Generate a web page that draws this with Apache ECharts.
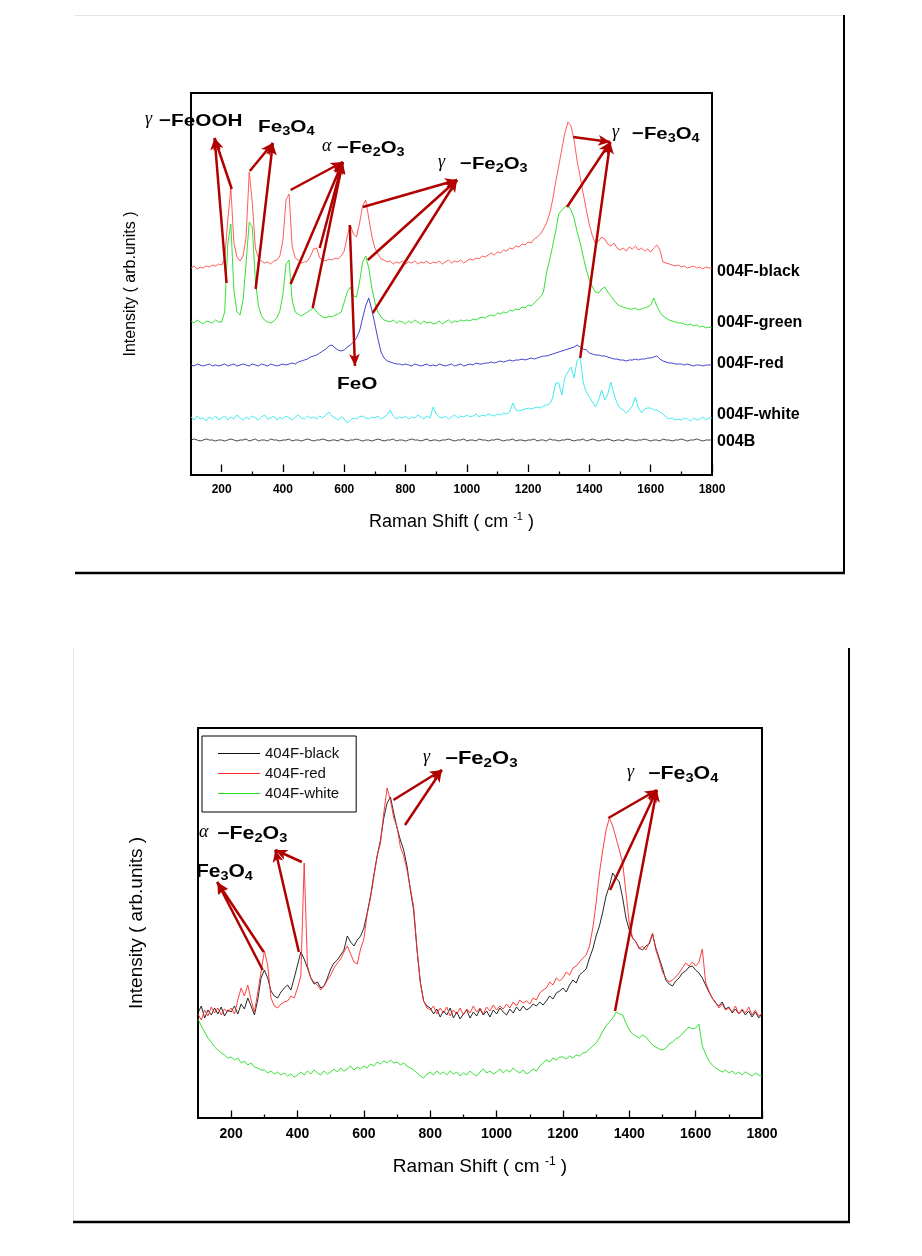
<!DOCTYPE html>
<html><head><meta charset="utf-8">
<script src="https://cdn.jsdelivr.net/npm/echarts@6/dist/echarts.min.js"></script>
<style>html,body{margin:0;padding:0;background:#fff}#c{width:922px;height:1256px}</style>
</head><body><div id="c"></div>
<script>
// Raman shift sampling grid (cm-1)
const shiftStart = 100, shiftStep = 10;
const majorTicks = [200,400,600,800,1000,1200,1400,1600,1800];
const minorTicks = [300,500,700,900,1100,1300,1500,1700];

// ---- top chart (004 samples), arbitrary intensity units ----
const top004Fblack = [
204,206,203,205,204,206,205,207,206,208,
207,213,252,284,229,215,211,216,236,300,
270,224,214,211,209,210,208,211,212,216,
232,272,278,226,214,212,209,210,211,216,
223,224,214,212,211,213,212,214,213,216,
221,236,247,238,235,249,266,272,254,236,
224,218,213,212,210,211,208,210,209,211,
208,210,209,211,208,210,209,211,208,210,
209,211,208,210,212,209,211,210,212,209,
211,213,212,214,213,216,215,217,219,217,
220,219,222,221,224,223,226,225,228,227,
230,229,233,235,238,243,249,258,272,290,
306,323,339,350,346,332,311,295,278,262,
247,236,228,231,235,233,228,226,229,224,
222,224,221,225,223,226,222,224,221,223,
220,224,227,222,210,209,208,207,206,207,
205,206,204,205,206,204,205,203,205,204,
204];
const top004Fgreen = [
151,149,152,150,148,151,150,149,152,150,
150,160,228,248,182,160,157,172,210,250,
245,192,166,156,152,150,149,151,154,161,
178,208,212,172,160,158,156,158,160,162,
164,160,157,155,154,156,155,157,158,160,
170,180,185,176,175,190,210,216,204,184,
170,160,155,152,151,150,152,149,151,150,
148,151,149,152,150,148,151,149,150,148,
149,151,148,150,152,149,151,150,152,151,
152,151,153,152,154,155,154,156,157,156,
159,158,160,159,162,161,163,162,165,164,
167,166,169,172,175,180,199,212,226,241,
258,262,265,267,262,254,240,229,215,202,
192,185,180,179,183,185,180,176,172,168,
166,165,164,163,163,164,162,163,164,165,
167,174,166,160,156,154,152,151,150,149,
149,148,147,148,146,147,145,146,144,145,
144];
const top004Fred = [
107,106,108,107,106,107,108,106,107,106,
107,108,106,107,108,106,107,108,107,106,
108,107,106,108,107,106,108,107,106,107,
108,107,108,109,108,110,111,112,113,115,
116,117,119,121,123,126,127,124,122,121,
122,125,127,130,134,141,154,166,174,162,
148,133,120,114,111,110,109,108,108,107,
108,107,106,108,107,106,107,108,106,107,
106,108,107,106,107,108,106,107,108,106,
107,108,107,109,108,108,109,109,110,109,
110,111,110,111,112,111,112,112,113,112,
113,114,113,114,115,116,116,117,118,119,
120,121,122,123,124,125,127,125,123,122,
119,118,117,117,116,116,115,114,113,113,
112,112,111,112,112,113,112,113,113,114,
114,115,116,113,111,110,109,109,108,108,
108,107,108,107,106,107,107,106,107,107,
107];
const top004Fwhite = [
55,52,56,53,54,51,55,53,56,52,
54,56,52,55,53,57,54,52,55,53,
56,54,52,55,57,53,54,56,52,55,
53,56,54,52,55,57,54,53,56,54,
55,53,56,54,57,60,56,54,52,55,
53,49,52,54,53,55,56,54,53,55,
54,56,53,55,57,62,56,53,55,54,
56,53,55,54,57,55,53,56,54,65,
58,55,54,56,53,55,57,54,56,55,
57,55,56,58,55,57,56,58,57,56,
58,57,59,58,60,69,62,61,62,63,
64,63,64,65,64,66,67,68,74,89,
89,77,95,100,105,94,112,115,89,80,
75,70,65,72,82,72,78,90,78,69,
64,62,59,62,66,75,64,59,63,64,
64,62,62,60,58,55,53,54,52,53,
52,54,53,51,54,52,53,55,52,54,
54];
const top004B = [
32,33,32,31,32,33,32,32,31,32,
32,31,32,33,32,31,32,32,33,31,
32,33,31,32,32,31,33,32,32,31,
32,32,33,31,32,32,31,32,33,32,
31,32,32,33,32,31,32,32,31,33,
32,31,32,32,33,32,31,32,32,31,
32,33,32,31,32,32,33,31,32,32,
31,32,33,32,32,31,32,33,31,32,
32,31,32,32,33,32,31,32,32,33,
31,32,32,31,33,32,32,31,32,32,
33,32,31,32,32,33,31,32,32,31,
32,32,33,31,32,32,31,33,32,32,
31,32,32,33,32,31,32,32,33,31,
32,33,32,31,32,32,33,32,31,32,
32,31,33,32,32,31,32,32,33,32,
31,32,32,31,33,32,32,31,32,32,
33,32,31,32,32,33,32,31,32,32,
32];

// ---- bottom chart (404 samples) ----
const bot404Fblack = [
105,112,100,108,103,110,104,111,102,108,
106,112,104,114,109,120,112,103,118,140,
148,140,127,122,120,126,130,133,128,140,
153,166,159,150,140,134,136,130,132,140,
149,155,158,163,168,182,176,172,178,182,
190,205,222,243,262,278,300,315,321,305,
290,278,268,252,228,208,169,136,117,112,
110,104,109,101,107,103,110,100,106,99,
104,108,100,106,102,109,103,107,101,108,
104,110,106,103,109,105,111,107,112,108,
110,114,112,116,113,117,122,119,125,127,
130,126,133,138,135,143,146,149,160,169,
182,192,206,222,232,245,240,236,220,200,
188,180,176,170,168,172,174,184,170,160,
150,138,134,132,137,140,145,147,151,152,
148,145,140,133,126,120,115,112,116,109,
111,105,109,104,108,103,107,101,106,100,
104];
const bot404Fred = [
104,98,108,102,111,105,110,103,109,106,
110,104,118,130,122,133,118,106,125,146,
167,153,120,112,110,114,116,117,122,120,
130,142,255,152,140,136,133,128,132,138,
143,150,155,159,166,172,164,156,154,169,
179,204,220,241,262,275,305,330,318,300,
291,271,262,248,230,211,169,136,117,110,
108,112,104,110,105,111,102,108,104,110,
103,109,105,112,106,110,104,111,107,113,
108,112,109,114,110,116,112,118,115,117,
114,120,118,125,128,130,136,133,140,137,
140,146,143,150,152,156,160,163,172,190,
215,245,268,288,300,292,280,268,255,225,
195,180,176,169,172,168,175,185,168,158,
146,140,136,138,141,145,150,155,152,156,
152,156,169,136,127,120,116,110,114,108,
110,106,112,104,109,105,111,103,108,102,
105];
const bot404Fwhite = [
99,92,86,80,76,71,68,65,63,60,
61,58,60,55,57,53,55,51,50,48,
48,45,47,44,46,43,45,42,44,41,
43,46,43,47,44,48,45,43,47,44,
46,49,46,50,47,49,52,48,51,49,
52,50,54,52,56,54,57,55,58,55,
56,53,55,52,50,48,45,42,40,44,
46,43,47,44,46,43,47,44,46,42,
45,43,47,44,42,46,49,45,47,44,
46,49,45,48,46,50,47,45,48,44,
46,49,47,52,55,58,56,60,58,61,
61,59,62,60,63,62,65,66,69,72,
75,80,87,92,96,100,106,104,103,95,
88,84,82,80,83,81,77,73,71,69,
68,70,74,76,79,81,84,88,91,89,
90,94,72,64,57,53,50,48,46,48,
45,47,44,46,43,46,44,42,45,43,
42];

// annotation arrows [tail, head] in data units
const topArrows = [
 [[233,283],[177,334]], [[216,189],[177,334]],
 [[292,301],[367,329]], [[311,183],[367,329]],
 [[425,282],[595,310]], [[425,188],[595,310]], [[520,224],[595,310]], [[497,164],[595,310]],
 [[618,247],[635,106]],
 [[661,265],[968,292]], [[677,212],[968,292]], [[693,159],[968,292]],
 [[1347,335],[1468,330]], [[1327,265],[1468,330]], [[1370,114],[1468,330]]
];
const botArrows = [
 [[298,166],[158,236]], [[295,148],[158,236]],
 [[413,256],[333,268]], [[404,166],[333,268]],
 [[689,318],[835,348]], [[724,293],[835,348]],
 [[1337,300],[1483,328]], [[1342,228],[1483,328]], [[1357,107],[1483,328]]
];

const SANS = 'Liberation Sans, Arial, sans-serif';
const SERIF = 'Liberation Serif, Times New Roman, serif';
const pairs = ys => ys.map((y, i) => [shiftStart + i * shiftStep, y]);
const arrowLine = arr => ({
  silent: true, symbol: ['none', 'arrow'], symbolSize: [8, 12], animation: false,
  label: {show: false}, emphasis: {disabled: true},
  lineStyle: {color: '#b00000', width: 2.5, type: 'solid', opacity: 1},
  data: arr.map(a => [{coord: a[0]}, {coord: a[1]}])
});

const topSeriesDefs = [
  {name: '004F-black', data: top004Fblack, color: '#ff4a4a', dy: 4},
  {name: '004F-green', data: top004Fgreen, color: '#1fdc1f', dy: -5},
  {name: '004F-red', data: top004Fred, color: '#2f2fc8', dy: -1},
  {name: '004F-white', data: top004Fwhite, color: '#2ee8ee', dy: -3},
  {name: '004B', data: top004B, color: '#333333', dy: 2}
];
const botSeriesDefs = [
  {name: '404F-black', data: bot404Fblack, color: '#111111'},
  {name: '404F-red', data: bot404Fred, color: '#ff2a2a'},
  {name: '404F-white', data: bot404Fwhite, color: '#22dd22'}
];

const series = [];
topSeriesDefs.forEach((d, i) => {
  const s = {
    name: d.name, type: 'line', xAxisIndex: 0, yAxisIndex: 0, symbol: 'none',
    data: pairs(d.data), color: d.color,
    lineStyle: {width: 0.9, color: d.color},
    endLabel: {show: true, formatter: '{a}', color: '#000', fontWeight: 'bold',
      fontSize: 16, fontFamily: SANS, distance: 5, offset: [0, d.dy]},
    emphasis: {disabled: true}
  };
  if (i === topSeriesDefs.length - 1) s.markLine = arrowLine(topArrows);
  series.push(s);
});
botSeriesDefs.forEach((d, i) => {
  const s = {
    name: d.name, type: 'line', xAxisIndex: 2, yAxisIndex: 1, symbol: 'none',
    data: pairs(d.data), color: d.color,
    lineStyle: {width: 0.9, color: d.color},
    emphasis: {disabled: true}
  };
  if (i === botSeriesDefs.length - 1) s.markLine = arrowLine(botArrows);
  series.push(s);
});

function xAxes(grid, labelSize, nameSize, nameGap) {
  return [{
    gridIndex: grid, type: 'value', position: 'bottom', min: 100, max: 1800,
    axisLine: {show: false}, splitLine: {show: false},
    axisTick: {show: true, inside: true, length: 7.5, customValues: majorTicks, lineStyle: {color: '#000', width: 1.3}},
    axisLabel: {customValues: majorTicks, formatter: v => String(v), fontSize: labelSize, fontWeight: 'bold', color: '#000', fontFamily: SANS, margin: 9},
    name: 'Raman Shift ( cm {sup|-1} )', nameLocation: 'middle', nameGap: nameGap,
    nameTextStyle: {fontSize: nameSize, color: '#000', fontFamily: SANS, lineHeight: 22,
      rich: {sup: {fontSize: Math.round(nameSize * 0.62), fontFamily: SANS, color: '#000', lineHeight: 12, verticalAlign: 'top'}}}
  }, {
    gridIndex: grid, type: 'value', position: 'bottom', min: 100, max: 1800,
    axisLine: {show: false}, splitLine: {show: false}, axisLabel: {show: false},
    axisTick: {show: true, inside: true, length: 3.5, customValues: minorTicks, lineStyle: {color: '#000', width: 1.3}}
  }];
}
function yAxis(grid, min, max, nameSize, nameGap) {
  return {
    gridIndex: grid, type: 'value', min: min, max: max,
    axisLine: {show: false}, axisTick: {show: false}, axisLabel: {show: false}, splitLine: {show: false},
    name: 'Intensity ( arb.units )', nameLocation: 'middle', nameGap: nameGap,
    nameTextStyle: {fontSize: nameSize, color: '#000', fontFamily: SANS}
  };
}

const annRich = (size) => ({
  b: {fontFamily: SANS, fontWeight: 'bold', fontSize: size, lineHeight: 22, fill: '#000', color: '#000'},
  s: {fontFamily: SANS, fontWeight: 'bold', fontSize: Math.round(size * 0.7), lineHeight: 14, verticalAlign: 'bottom', fill: '#000', color: '#000'}
});
function formula(x, y, text, size, sx) {
  return {type: 'text', x: x, y: y, scaleX: sx, silent: true, z: 100,
    style: {text: text, rich: annRich(size), align: 'left', verticalAlign: 'middle', fill: '#000'}};
}
function greek(x, y, ch, size) {
  return {type: 'text', x: x, y: y, silent: true, z: 100,
    style: {text: ch, fontFamily: SERIF, fontStyle: 'italic', fontSize: size, align: 'left', verticalAlign: 'middle', fill: '#000'}};
}
function hline(x1, y1, x2, y2, color, w) {
  return {type: 'line', silent: true, shape: {x1: x1, y1: y1, x2: x2, y2: y2}, style: {stroke: color, lineWidth: w}};
}

const graphic = [
  // page frames
  hline(75, 15.5, 844, 15.5, '#e4e4e4', 1),
  hline(844, 15, 844, 574, '#000', 2),
  hline(75, 573, 845, 573, '#000', 2.5),
  hline(73.5, 648, 73.5, 1222, '#e4e4e4', 1),
  hline(849, 648, 849, 1223, '#000', 2),
  hline(73, 1222, 850, 1222, '#000', 2.5),
  // top annotations
  greek(145, 119, 'γ', 18), formula(159, 121, '{b|−FeOOH}', 17, 1.22),
  formula(258, 127, '{b|Fe}{s|3}{b|O}{s|4}', 17, 1.22),
  greek(322, 146, 'α', 18), formula(337, 148, '{b|−Fe}{s|2}{b|O}{s|3}', 17, 1.2),
  greek(438, 162, 'γ', 18), formula(460, 164, '{b|−Fe}{s|2}{b|O}{s|3}', 17, 1.2),
  greek(612, 132, 'γ', 18), formula(632, 134, '{b|−Fe}{s|3}{b|O}{s|4}', 17, 1.2),
  formula(337, 384, '{b|FeO}', 17, 1.22),
  // bottom annotations
  greek(423, 757, 'γ', 18), formula(445, 759, '{b|−Fe}{s|2}{b|O}{s|3}', 17.5, 1.26),
  greek(627, 772, 'γ', 18), formula(648, 774, '{b|−Fe}{s|3}{b|O}{s|4}', 17.5, 1.22),
  greek(199, 832, 'α', 18), formula(217, 834, '{b|−Fe}{s|2}{b|O}{s|3}', 17.5, 1.22),
  formula(196, 872, '{b|Fe}{s|3}{b|O}{s|4}', 17.5, 1.2)
];

const chart = echarts.init(document.getElementById('c'), null, {renderer: 'canvas'});
chart.setOption({
  backgroundColor: '#fff',
  animation: false,
  grid: [
    {left: 191, top: 93, width: 521, height: 382, show: true, borderColor: '#000', borderWidth: 2, backgroundColor: 'transparent'},
    {left: 198, top: 728, width: 564, height: 390, show: true, borderColor: '#000', borderWidth: 2, backgroundColor: 'transparent'}
  ],
  xAxis: [].concat(xAxes(0, 12, 18, 36), xAxes(1, 14, 19, 38)),
  yAxis: [yAxis(0, -3, 379, 16, 52), yAxis(1, 0, 390, 19, 52)],
  legend: {
    data: botSeriesDefs.map(d => ({name: d.name, icon: 'rect'})), left: 202, top: 736, orient: 'vertical',
    itemWidth: 42, itemHeight: 1, itemGap: 5, padding: [10, 17, 11, 16],
    borderColor: '#000', borderWidth: 1, backgroundColor: '#fff',
    textStyle: {fontSize: 15, fontFamily: SANS, color: '#111'}
  },
  series: series,
  graphic: graphic
});
</script></body></html>
